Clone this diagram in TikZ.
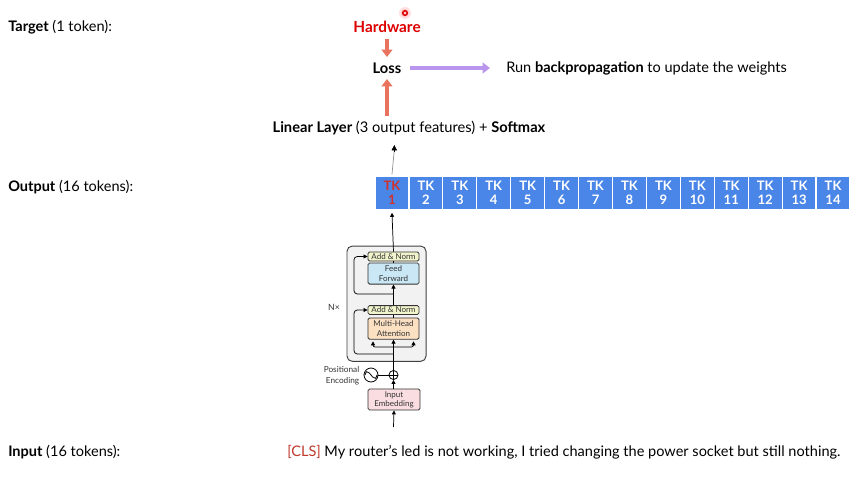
\documentclass[tikz,border=0pt]{standalone}
\usepackage{fontspec}
\setmainfont{Lato}
\usetikzlibrary{arrows.meta}
\definecolor{salmon}{HTML}{E8745F}
\definecolor{lav}{HTML}{B995EE}
\definecolor{tkblue}{HTML}{4A86E8}
\definecolor{hwred}{HTML}{DD0000}
\definecolor{tkred}{HTML}{D0312D}
\definecolor{clsred}{HTML}{C0392B}
\definecolor{outerfill}{HTML}{F2F2F2}
\definecolor{anfill}{HTML}{F2F5CC}
\definecolor{fffill}{HTML}{C9E7F4}
\definecolor{mhafill}{HTML}{FBE0C2}
\definecolor{iefill}{HTML}{F9DDE0}
\definecolor{txtgray}{HTML}{333333}
\begin{document}
\begin{tikzpicture}[x=0.75pt,y=-0.75pt,
  lbl/.style={anchor=west,inner sep=0pt,font=\fontsize{10.9}{13}\selectfont},
  tok/.style={fill=tkblue,draw=white,line width=0.9pt,minimum width=25.45pt,minimum height=25pt,inner sep=0pt,text=white,align=center,font=\bfseries\fontsize{9.8}{10.6}\selectfont},
  bigarrow/.style={draw=salmon,line width=2.3pt,-{Triangle[width=8pt,length=5.5pt]}},
  purparrow/.style={draw=lav,line width=2.3pt,-{Triangle[width=8pt,length=5.5pt]}},
  tblock/.style={draw=black!80,line width=0.6pt,rounded corners=1.2pt,minimum width=38.3pt,inner sep=0pt,align=center,text=txtgray,font=\fontsize{6}{6.8}\selectfont},
  thin/.style={draw=black,line width=0.55pt,-{Triangle[width=3pt,length=3pt]}},
  plain/.style={draw=black,line width=0.55pt}
]
\useasboundingbox (0,0) rectangle (864,478);

% left labels
\node[lbl] (tgtlbl) at (8,27) {\textbf{Target} (1 token):};
\node[lbl] (outlbl) at (8,187) {\textbf{Output} (16 tokens):};
\node[lbl] (inlbl) at (8,452) {\textbf{Input} (16 tokens):};

% top part
\fill[red,opacity=0.12] (405,13) circle[radius=6];
\fill[red,opacity=0.12] (405,13) circle[radius=4];
\draw[hwred,line width=1.1pt] (405,13) circle[radius=2.3];
\node[inner sep=0pt,text=hwred,font=\bfseries\fontsize{11.5}{13}\selectfont] (hw) at (387,27) {Hardware};
\node[inner sep=0pt,font=\bfseries\fontsize{11}{13}\selectfont] (loss) at (387,68) {Loss};
\node[lbl] (bp) at (506,68) {Run \textbf{backpropagation} to update the weights};
\node[inner sep=0pt,font=\fontsize{11}{13}\selectfont] (lin) at (409,128) {\textbf{Linear Layer} (3 output features) + \textbf{Softmax}};

\coordinate (hwb) at (387,39);
\coordinate (lossn) at (387,57);
\draw[bigarrow] (hwb) -- (lossn);
\coordinate (losse) at (410,68);
\coordinate (purpend) at (490,68);
\draw[purparrow] (losse) -- (purpend);
\coordinate (linn) at (387,116);
\coordinate (losss) at (387,79);
\draw[bigarrow] (linn) -- (losss);

% tokens
\foreach \i in {1,...,14}{
  \ifnum\i=1
    \node[tok,text=tkred] (tk\i) at ({375+33.93*(\i-0.5)},192.6) {TK\\\i};
  \else
    \node[tok] (tk\i) at ({375+33.93*(\i-0.5)},192.6) {TK\\\i};
  \fi
}

\coordinate (linb) at (394.3,145);
\draw[draw=black!45,line width=0.5pt] (tk1.north) ++(0,-1) -- (394.3,150);
\draw[black,-{Triangle[width=4pt,length=4pt]},line width=0.5pt] (394.3,152) -- (linb);

% transformer block
\node[draw=black!75,fill=outerfill,line width=0.7pt,rounded corners=4pt,minimum width=59.3pt,minimum height=86.5pt,inner sep=0pt] (outer) at (386.5,303.7) {};
\node[tblock,fill=anfill,minimum height=6.8pt] (an1) at (393.5,256.5) {Add \& Norm};
\node[tblock,fill=fffill,minimum height=15.8pt] (ff) at (393.5,273.6) {Feed\\Forward};
\node[tblock,fill=anfill,minimum height=6.6pt] (an2) at (393.5,310) {Add \& Norm};
\node[tblock,fill=mhafill,minimum height=16pt] (mha) at (393.5,328.6) {Multi-Head\\Attention};
\node[tblock,fill=iefill,minimum height=15.8pt,minimum width=39pt] (ie) at (394,399.5) {Input\\Embedding};
\node[inner sep=0pt,text=txtgray,font=\fontsize{6.5}{7}\selectfont] (nx) at (334,307) {N×};
\node[inner sep=0pt,anchor=east,align=right,text=txtgray,font=\fontsize{6.2}{8}\selectfont] (pe) at (359.5,375.5) {Positional\\Encoding};

% sine and plus
\node[draw=black,line width=0.6pt,circle,minimum size=10.5pt,inner sep=0pt] (sine) at (371,375) {};
\draw[line width=0.6pt] ([xshift=-4.5pt]sine.center) .. controls +(1.5pt,4pt) and +(-1.5pt,0pt) .. +(2.25pt,2pt) .. controls +(1.5pt,0pt) and +(-1.5pt,0pt) .. +(6.75pt,-2pt) .. controls +(1.5pt,0) and +(-1.5pt,-4pt) .. +(9pt,0pt);
\node[draw=black,line width=0.6pt,circle,minimum size=6.8pt,inner sep=0pt] (plus) at (393.5,375) {};
\draw[line width=0.5pt] (plus.north) -- (plus.south) (plus.west) -- (plus.east);
\draw[plain] (sine.east) -- (plus.west);

% flow
\coordinate (inbot) at (393.5,427);
\draw[thin] (inbot) -- (ie.south);
\draw[thin] (ie.north -| plus) -- (plus.south);
\coordinate (br) at (393.5,347);
\coordinate (res1) at (393.5,354);
\draw[plain] (plus.north) -- (br);
\draw[thin] (br) -- (mha.south);
\draw[thin,rounded corners=1.5pt] (br) -| (373,341.3);
\draw[thin,rounded corners=1.5pt] (br) -| (413.5,341.3);
\draw[thin,rounded corners=2.5pt] (res1) -| (354,310) -- (an2.west);
\draw[plain] (mha.north) -- (an2.south);
\draw[thin] (an2.north) -- (ff.south);
\coordinate (res2) at (393.5,294);
\draw[thin,rounded corners=2.5pt] (res2) -| (354,256.5) -- (an1.west);
\draw[plain] (ff.north) -- (an1.south);
\draw[thin] (an1.north) -- ([yshift=-2.2pt]tk1.south);

% input sentence
\node[lbl] (sent) at (287,452) {\textcolor{clsred}{[CLS]} My router’s led is not working, I tried changing the power socket but still nothing.};
\end{tikzpicture}
\end{document}
